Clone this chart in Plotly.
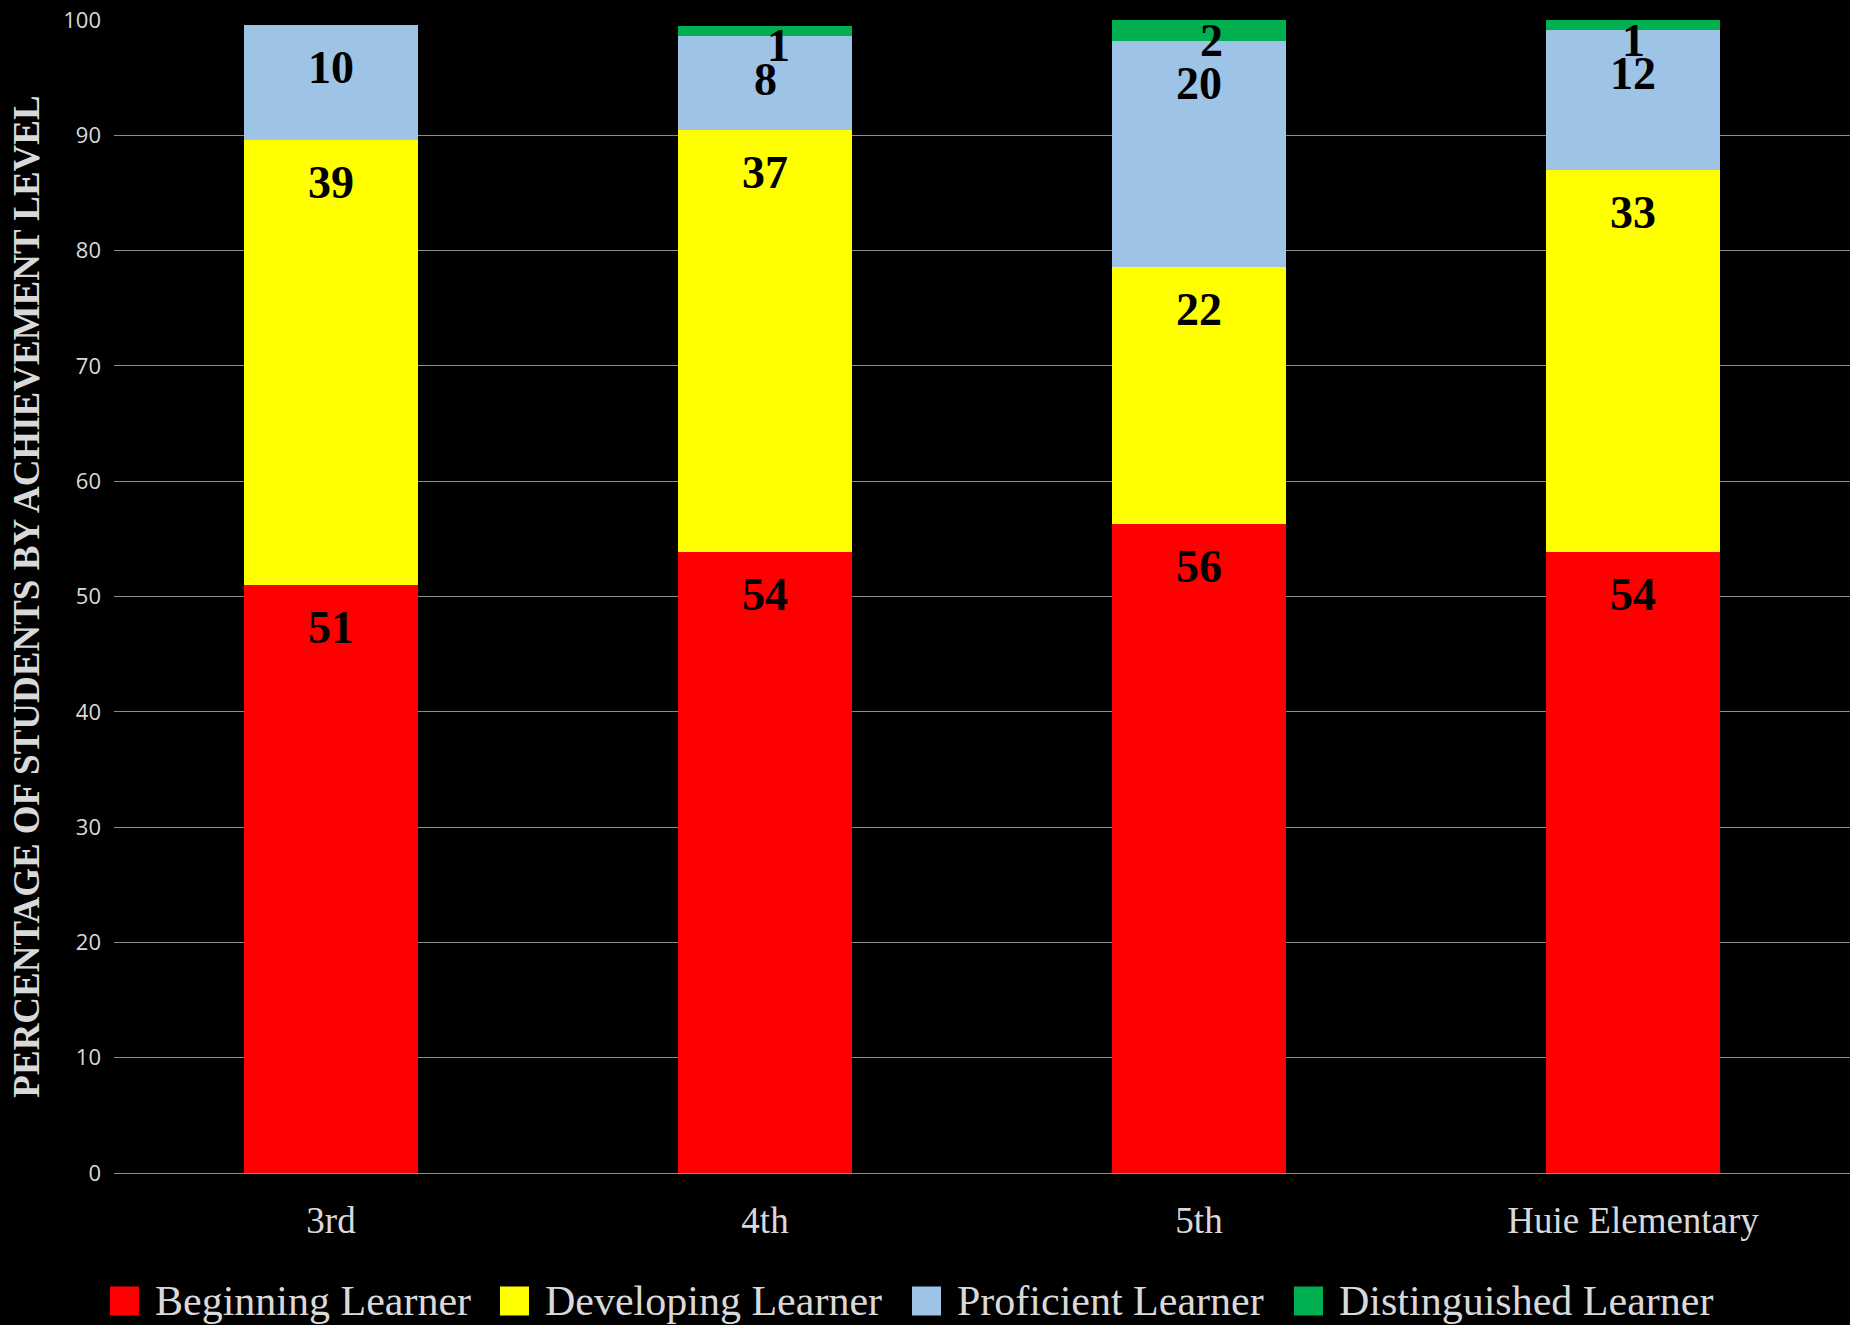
import plotly.graph_objects as go

categories = ["3rd", "4th", "5th", "Huie Elementary"]
series_names = ["Beginning Learner", "Developing Learner", "Proficient Learner", "Distinguished Learner"]
beginning = [51.0, 53.9, 56.3, 53.9]
developing = [38.6, 36.6, 22.3, 33.1]
proficient = [10.0, 8.1, 19.6, 12.1]
distinguished = [0.0, 0.9, 1.8, 0.9]
y_ticks = [0, 10, 20, 30, 40, 50, 60, 70, 80, 90, 100]

# ---- styling ----
colors = ["#FF0000", "#FFFF00", "#9DC3E6", "#00B050"]
label_shift = [-43, -43, -43, -20]  # px offset of value label from segment top
small_label_xshift = [0, 13, 12, 0]  # px nudge of the top (distinguished) labels
W, H = 1850, 1325
M_L, M_R, M_T, M_B = 114, 0, 20, 152
legend_entry_px = [110, 500, 912, 1294]   # left edge of each legend swatch (px)
legend_center_py = 1301                    # vertical centre of legend row (px)
swatch = 29
text_color = "#D9D9D9"

series = [beginning, developing, proficient, distinguished]

fig = go.Figure()
for name, vals, col in zip(series_names, series, colors):
    fig.add_trace(go.Bar(
        x=categories, y=vals, name=name,
        marker=dict(color=col, line=dict(width=0)),
        hoverinfo="skip", showlegend=False,
    ))

annotations = []
cum = [0.0] * len(categories)
for si, vals in enumerate(series):
    for ci, v in enumerate(vals):
        cum[ci] += v
        if v <= 0:
            continue
        annotations.append(dict(
            x=categories[ci], y=cum[ci], xref="x", yref="y",
            text=f"{v:.0f}", showarrow=False,
            yanchor="middle", xanchor="center", yshift=label_shift[si],
            xshift=small_label_xshift[ci] if si == len(series) - 1 else 0,
            font=dict(family="Liberation Serif", size=46, color="#000000", weight="bold"),
        ))

# custom legend (large square swatches like the original)
plot_w = W - M_L - M_R
plot_h = H - M_T - M_B
def px_to_paper_x(px):
    return (px - M_L) / plot_w
def py_to_paper_y(py):
    return (H - M_B - py) / plot_h

shapes = []
for name, col, lx in zip(series_names, colors, legend_entry_px):
    shapes.append(dict(
        type="rect", xref="paper", yref="paper",
        x0=px_to_paper_x(lx), x1=px_to_paper_x(lx + swatch),
        y0=py_to_paper_y(legend_center_py + swatch / 2),
        y1=py_to_paper_y(legend_center_py - swatch / 2),
        fillcolor=col, line=dict(width=0),
    ))
    annotations.append(dict(
        x=px_to_paper_x(lx + swatch + 14), y=py_to_paper_y(legend_center_py),
        xref="paper", yref="paper", text=name, showarrow=False,
        xanchor="left", yanchor="middle",
        font=dict(family="Liberation Serif", size=42, color=text_color),
    ))

fig.update_layout(
    barmode="stack",
    bargap=0.597,
    width=W, height=H,
    paper_bgcolor="#000000", plot_bgcolor="#000000",
    margin=dict(l=M_L, r=M_R, t=M_T, b=M_B, autoexpand=False),
    annotations=annotations,
    shapes=shapes,
    showlegend=False,
    xaxis=dict(
        showgrid=False, showline=False, ticks="",
        tickfont=dict(family="Liberation Serif", size=37, color=text_color),
        ticklabelstandoff=22,
    ),
    yaxis=dict(
        range=[0, 100], tickvals=y_ticks, ticktext=[str(t) for t in y_ticks],
        showgrid=True, gridcolor="#8A8A8A", gridwidth=1.3,
        zeroline=True, zerolinecolor="#8A8A8A", zerolinewidth=1.3,
        showline=False, ticks="",
        tickfont=dict(family="Open Sans", size=22, color=text_color),
        ticklabelstandoff=12,
        title=dict(
            text="PERCENTAGE OF STUDENTS BY ACHIEVEMENT LEVEL",
            font=dict(family="Liberation Serif", size=37, color=text_color, weight="bold"),
            standoff=12,
        ),
    ),
)

fig.write_html(
    "out.html",
    config={"displayModeBar": False},
    post_script="document.body.style.margin='0';document.body.style.background='#000';",
)
